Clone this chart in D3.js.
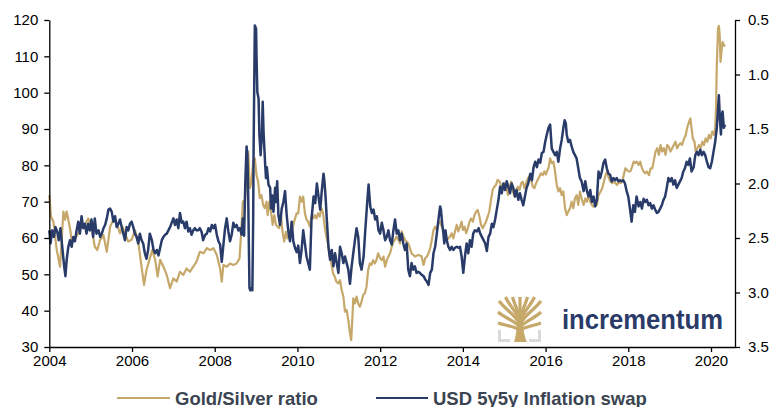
<!DOCTYPE html>
<html>
<head>
<meta charset="utf-8">
<script src="https://cdn.jsdelivr.net/npm/d3@7"></script>
<style>
  html, body { margin: 0; padding: 0; background: #fff; }
  svg { display: block; font-family: "Liberation Sans", Arial, sans-serif; }
</style>
</head>
<body>
<div id="container"></div>
<script>
// Gold/Silver ratio, [decimal year, ratio] (left axis)
const goldSilver = [
  [2004.00,71.8],[2004.04,65.9],[2004.10,64.5],[2004.18,56.7],[2004.26,52.1],[2004.30,59.5],[2004.34,67.3],[2004.38,65],[2004.42,67.3],[2004.46,65],
  [2004.50,62.7],[2004.54,59.5],[2004.62,59.9],[2004.70,61.3],[2004.78,63.1],[2004.86,63.6],[2004.94,65.4],[2005.02,63.1],[2005.10,57.6],[2005.16,56.7],
  [2005.23,59.5],[2005.31,60.8],[2005.39,56.2],[2005.47,63.1],[2005.55,65],[2005.63,64],[2005.71,61.3],[2005.77,63.1],[2005.83,61.3],[2005.91,59],
  [2005.99,59.5],[2006.07,62.2],[2006.15,59],[2006.23,52.1],[2006.29,47.1],[2006.35,51.2],[2006.43,54.4],[2006.49,56.7],[2006.56,54],[2006.62,49.4],
  [2006.68,54],[2006.76,52.1],[2006.84,49.8],[2006.92,46.2],[2007.00,48.9],[2007.08,48],[2007.16,50.7],[2007.24,49.8],[2007.32,51.6],[2007.40,50.7],
  [2007.48,52.1],[2007.56,53.5],[2007.64,56.2],[2007.73,55.8],[2007.81,57.2],[2007.89,56.7],[2007.97,57.2],[2008.05,55.3],[2008.13,51.6],[2008.17,48],
  [2008.21,52.6],[2008.29,52.1],[2008.37,53],[2008.45,52.6],[2008.53,53],[2008.60,54.4],[2008.64,61.7],[2008.68,70],[2008.73,70.5],[2008.79,79.2],
  [2008.81,83.8],[2008.85,73.7],[2008.89,75.5],[2008.93,81],[2008.97,81.9],[2009.01,77.3],[2009.05,75.5],[2009.09,71],[2009.13,71.8],[2009.17,69.1],
  [2009.21,68.2],[2009.25,70],[2009.28,66.3],[2009.32,70],[2009.36,67.3],[2009.40,63.6],[2009.44,66.3],[2009.48,63.6],[2009.56,62.7],[2009.60,66.3],
  [2009.64,61.7],[2009.68,59],[2009.72,61.7],[2009.76,59.9],[2009.80,60.8],[2009.88,62.7],[2009.92,64.5],[2009.98,66.8],[2010.02,66.8],[2010.06,71.4],
  [2010.10,70],[2010.14,71.4],[2010.18,66.8],[2010.22,65],[2010.26,64.5],[2010.30,63.1],[2010.34,65.9],[2010.38,65.4],[2010.42,66.3],[2010.46,65.4],
  [2010.50,66.8],[2010.54,65.9],[2010.58,68.2],[2010.62,66.8],[2010.66,63.1],[2010.70,60.4],[2010.74,58.1],[2010.78,54.9],[2010.82,53],[2010.86,50.3],
  [2010.90,49.4],[2010.94,48],[2010.99,47.5],[2011.03,48.4],[2011.07,45.7],[2011.11,43.9],[2011.15,39.7],[2011.19,40.2],[2011.23,37.4],[2011.27,33.8],
  [2011.30,31.9],[2011.33,38.4],[2011.35,43.4],[2011.39,42],[2011.43,43.9],[2011.47,42],[2011.51,41.1],[2011.55,42.5],[2011.59,44.3],[2011.63,44.8],
  [2011.67,46.6],[2011.71,51.2],[2011.75,53],[2011.79,52.6],[2011.83,53.9],[2011.87,53],[2011.91,53.9],[2011.95,55.8],[2012.00,54.4],[2012.04,53.9],
  [2012.08,54.9],[2012.12,52.1],[2012.16,53.9],[2012.20,54.9],[2012.24,55.8],[2012.28,57.6],[2012.32,59],[2012.36,59.5],[2012.40,60.4],[2012.44,59.5],
  [2012.48,58.5],[2012.52,61.8],[2012.56,60.5],[2012.60,59.5],[2012.68,58.5],[2012.76,55.8],[2012.84,54.9],[2012.92,55.3],[2013.00,55],[2013.05,52.6],
  [2013.09,54.4],[2013.13,54.9],[2013.17,55.8],[2013.21,57.2],[2013.25,59.5],[2013.29,62.2],[2013.33,63.1],[2013.37,62.2],[2013.41,64],[2013.45,64.5],
  [2013.49,63.1],[2013.53,62.2],[2013.57,61.8],[2013.61,59.5],[2013.65,59.9],[2013.69,60.4],[2013.73,61.3],[2013.77,59.9],[2013.81,61.8],[2013.85,63.6],
  [2013.89,61.8],[2013.93,63.1],[2013.97,64.5],[2014.00,62.2],[2014.04,63.1],[2014.08,61.3],[2014.12,62.7],[2014.16,64.5],[2014.20,65.4],[2014.24,64.5],
  [2014.28,66.3],[2014.32,67.3],[2014.36,67.7],[2014.40,65.9],[2014.44,63.6],[2014.48,62.7],[2014.52,63.6],[2014.56,64.5],[2014.60,65.9],[2014.64,67.3],
  [2014.68,70.5],[2014.72,73.2],[2014.76,74.1],[2014.80,74.6],[2014.84,76],[2014.89,75.5],[2014.93,74.1],[2014.97,73.7],[2015.01,75.1],[2015.05,74.1],
  [2015.09,71.8],[2015.13,74.1],[2015.17,75.5],[2015.21,72.8],[2015.25,71.4],[2015.29,73.2],[2015.33,74.1],[2015.37,73.2],[2015.41,75.1],[2015.45,75.5],
  [2015.49,73.7],[2015.53,75.1],[2015.57,76.4],[2015.60,76.9],[2015.65,76],[2015.69,74.1],[2015.73,73.7],[2015.77,75.1],[2015.81,76],[2015.85,76.9],
  [2015.89,77.8],[2015.93,77.3],[2015.97,78.3],[2016.01,77.5],[2016.03,78.3],[2016.07,79.2],[2016.11,81.9],[2016.15,80.6],[2016.19,81],[2016.23,78.3],
  [2016.27,74.6],[2016.31,72.8],[2016.35,73.7],[2016.39,71.8],[2016.43,72.8],[2016.47,68.2],[2016.51,66.3],[2016.55,67.3],[2016.59,68.2],[2016.63,70],
  [2016.67,68.2],[2016.71,70.9],[2016.75,71.8],[2016.79,69.1],[2016.83,72.8],[2016.87,70.9],[2016.92,69.1],[2016.96,70.9],[2017.00,70],[2017.04,71.8],
  [2017.08,70],[2017.12,69.1],[2017.16,68.6],[2017.20,69.5],[2017.24,69.1],[2017.28,71.8],[2017.33,72.8],[2017.37,73.7],[2017.41,75.5],[2017.45,77.3],
  [2017.49,78.3],[2017.53,76.4],[2017.57,75.5],[2017.61,75.1],[2017.65,75.5],[2017.69,75.1],[2017.73,74.6],[2017.77,75.5],[2017.81,75.1],[2017.85,75.5],
  [2017.89,77.3],[2017.93,79.2],[2017.97,78.7],[2018.01,78.3],[2018.05,78.3],[2018.09,79.6],[2018.13,81],[2018.17,80.6],[2018.21,81],[2018.25,80.1],
  [2018.29,81],[2018.33,79.2],[2018.37,78.3],[2018.41,77.8],[2018.45,78.3],[2018.50,77.3],[2018.54,79.2],[2018.58,79.2],[2018.62,81.5],[2018.66,83.8],
  [2018.70,84.7],[2018.74,82.9],[2018.78,85.6],[2018.82,83.8],[2018.86,84.7],[2018.90,82.9],[2018.94,85.6],[2018.98,85.1],[2019.02,83.8],[2019.06,84.7],
  [2019.10,85.6],[2019.14,86.5],[2019.18,84.7],[2019.22,85.6],[2019.26,86.1],[2019.30,85.6],[2019.35,87.4],[2019.39,88.4],[2019.43,90.6],[2019.47,92],
  [2019.50,92.9],[2019.53,90.2],[2019.56,87.4],[2019.60,86.5],[2019.63,83.8],[2019.67,84.7],[2019.71,85.6],[2019.75,84.7],[2019.79,86.5],[2019.83,85.6],
  [2019.87,87.4],[2019.91,86.5],[2019.95,88.4],[2019.99,87.4],[2020.03,89.3],[2020.07,88.4],[2020.10,90.2],[2020.12,95.7],[2020.14,107.6],[2020.17,117.7],
  [2020.19,118.4],[2020.21,115.9],[2020.23,108.5],[2020.26,112.2],[2020.28,114],[2020.31,113.1],[2020.34,112.7]
];

// USD 5y5y inflation swap, [decimal year, %] (right axis, inverted)
const inflationSwap = [
  [2004.00,2.43],[2004.03,2.55],[2004.07,2.43],[2004.11,2.49],[2004.15,2.40],[2004.19,2.44],[2004.23,2.52],[2004.27,2.41],[2004.32,2.61],[2004.36,2.76],
  [2004.39,2.85],[2004.42,2.70],[2004.46,2.58],[2004.50,2.52],[2004.54,2.58],[2004.58,2.49],[2004.62,2.53],[2004.66,2.43],[2004.70,2.35],[2004.74,2.46],
  [2004.78,2.30],[2004.82,2.41],[2004.86,2.37],[2004.90,2.46],[2004.94,2.37],[2004.98,2.43],[2005.02,2.33],[2005.06,2.49],[2005.10,2.32],[2005.14,2.46],
  [2005.19,2.43],[2005.23,2.49],[2005.27,2.46],[2005.31,2.41],[2005.35,2.38],[2005.39,2.32],[2005.43,2.24],[2005.47,2.23],[2005.51,2.26],[2005.55,2.35],
  [2005.59,2.30],[2005.63,2.40],[2005.67,2.37],[2005.71,2.33],[2005.75,2.40],[2005.79,2.46],[2005.83,2.52],[2005.87,2.40],[2005.91,2.43],[2005.95,2.37],
  [2005.99,2.35],[2006.03,2.40],[2006.07,2.46],[2006.11,2.49],[2006.15,2.55],[2006.19,2.46],[2006.23,2.52],[2006.27,2.55],[2006.31,2.64],[2006.35,2.69],
  [2006.39,2.61],[2006.43,2.46],[2006.48,2.52],[2006.52,2.61],[2006.56,2.64],[2006.60,2.61],[2006.64,2.66],[2006.68,2.59],[2006.72,2.52],[2006.76,2.49],
  [2006.80,2.47],[2006.84,2.46],[2006.88,2.43],[2006.92,2.40],[2007.00,2.32],[2007.04,2.38],[2007.08,2.33],[2007.12,2.41],[2007.16,2.27],[2007.20,2.36],
  [2007.24,2.35],[2007.28,2.41],[2007.32,2.35],[2007.36,2.44],[2007.40,2.41],[2007.44,2.47],[2007.48,2.43],[2007.52,2.41],[2007.56,2.43],[2007.60,2.43],
  [2007.64,2.41],[2007.68,2.44],[2007.72,2.52],[2007.77,2.47],[2007.81,2.46],[2007.85,2.41],[2007.89,2.44],[2007.93,2.38],[2007.97,2.41],[2008.01,2.38],
  [2008.05,2.47],[2008.09,2.53],[2008.13,2.56],[2008.17,2.72],[2008.21,2.56],[2008.25,2.41],[2008.29,2.32],[2008.33,2.44],[2008.37,2.53],[2008.41,2.47],
  [2008.45,2.36],[2008.49,2.40],[2008.53,2.38],[2008.57,2.43],[2008.61,2.41],[2008.65,2.47],[2008.68,2.32],[2008.71,2.48],[2008.74,1.98],[2008.77,1.66],
  [2008.79,1.74],[2008.81,2.14],[2008.84,2.96],[2008.86,2.98],[2008.89,2.96],[2008.91,2.98],[2008.93,2.32],[2008.94,1.68],[2008.96,0.91],[2008.97,0.55],
  [2009.00,0.58],[2009.01,0.82],[2009.03,1.16],[2009.06,1.22],[2009.08,1.55],[2009.11,1.74],[2009.14,1.55],[2009.16,1.25],[2009.18,1.52],[2009.22,1.83],
  [2009.24,1.95],[2009.26,1.85],[2009.30,2.01],[2009.34,2.04],[2009.36,2.23],[2009.39,2.11],[2009.42,2.26],[2009.46,2.04],[2009.48,2.17],[2009.51,1.98],
  [2009.54,2.29],[2009.58,2.38],[2009.62,2.23],[2009.66,2.17],[2009.70,2.07],[2009.74,2.29],[2009.78,2.44],[2009.82,2.53],[2009.86,2.35],[2009.90,2.53],
  [2009.94,2.59],[2009.98,2.63],[2010.02,2.57],[2010.06,2.73],[2010.10,2.61],[2010.14,2.43],[2010.18,2.55],[2010.22,2.67],[2010.26,2.73],[2010.30,2.79],
  [2010.34,2.33],[2010.39,2.12],[2010.43,2.18],[2010.47,2.00],[2010.51,2.12],[2010.55,2.24],[2010.59,2.06],[2010.63,1.91],[2010.65,1.97],[2010.68,2.12],
  [2010.71,2.33],[2010.75,2.58],[2010.79,2.70],[2010.83,2.61],[2010.87,2.76],[2010.91,2.64],[2010.95,2.73],[2010.99,2.82],[2011.03,2.58],[2011.07,2.64],
  [2011.11,2.73],[2011.15,2.67],[2011.19,2.73],[2011.23,2.79],[2011.27,2.92],[2011.31,2.76],[2011.35,2.64],[2011.39,2.52],[2011.43,2.41],[2011.47,2.49],
  [2011.51,2.73],[2011.55,2.79],[2011.60,2.67],[2011.64,2.43],[2011.68,2.21],[2011.72,2.01],[2011.76,2.21],[2011.80,2.27],[2011.84,2.24],[2011.88,2.33],
  [2011.92,2.30],[2011.96,2.43],[2012.00,2.46],[2012.04,2.36],[2012.08,2.43],[2012.12,2.52],[2012.16,2.49],[2012.20,2.43],[2012.24,2.52],[2012.28,2.56],
  [2012.32,2.43],[2012.36,2.33],[2012.40,2.46],[2012.44,2.43],[2012.48,2.52],[2012.52,2.46],[2012.56,2.55],[2012.60,2.61],[2012.64,2.55],[2012.68,2.79],
  [2012.72,2.85],[2012.76,2.73],[2012.80,2.79],[2012.84,2.76],[2012.88,2.82],[2012.92,2.81],[2012.96,2.82],[2013.01,2.84],[2013.05,2.85],[2013.09,2.88],
  [2013.13,2.90],[2013.17,2.93],[2013.21,2.82],[2013.25,2.79],[2013.29,2.64],[2013.33,2.58],[2013.37,2.46],[2013.41,2.33],[2013.45,2.21],[2013.47,2.24],
  [2013.50,2.37],[2013.53,2.46],[2013.55,2.55],[2013.58,2.43],[2013.61,2.52],[2013.65,2.58],[2013.69,2.61],[2013.73,2.58],[2013.77,2.61],[2013.81,2.59],
  [2013.85,2.58],[2013.89,2.59],[2013.93,2.58],[2013.97,2.67],[2014.01,2.82],[2014.05,2.67],[2014.09,2.55],[2014.13,2.64],[2014.17,2.52],[2014.21,2.58],
  [2014.25,2.46],[2014.29,2.43],[2014.34,2.44],[2014.38,2.41],[2014.42,2.46],[2014.46,2.49],[2014.50,2.52],[2014.54,2.55],[2014.58,2.62],[2014.62,2.49],
  [2014.66,2.46],[2014.70,2.37],[2014.74,2.40],[2014.78,2.33],[2014.82,2.24],[2014.86,2.15],[2014.90,2.03],[2014.94,2.09],[2014.98,2.00],[2015.02,2.06],
  [2015.06,1.98],[2015.10,2.03],[2015.14,2.09],[2015.18,2.00],[2015.22,2.04],[2015.26,2.12],[2015.30,2.06],[2015.34,2.15],[2015.38,2.09],[2015.42,2.15],
  [2015.46,2.20],[2015.50,2.12],[2015.54,2.04],[2015.58,2.00],[2015.63,1.91],[2015.67,1.97],[2015.71,1.85],[2015.75,1.80],[2015.79,1.85],[2015.83,1.78],
  [2015.87,1.81],[2015.91,1.72],[2015.95,1.71],[2015.99,1.62],[2016.03,1.55],[2016.07,1.49],[2016.11,1.46],[2016.15,1.68],[2016.19,1.71],[2016.23,1.74],
  [2016.27,1.71],[2016.31,1.80],[2016.35,1.68],[2016.39,1.60],[2016.43,1.49],[2016.46,1.42],[2016.49,1.45],[2016.51,1.55],[2016.55,1.62],[2016.59,1.60],
  [2016.63,1.66],[2016.67,1.71],[2016.71,1.74],[2016.75,1.77],[2016.79,1.86],[2016.83,1.95],[2016.87,1.98],[2016.92,2.07],[2016.96,1.98],[2017.00,2.07],
  [2017.04,2.12],[2017.08,2.06],[2017.12,2.17],[2017.16,2.12],[2017.20,2.21],[2017.24,2.15],[2017.28,1.89],[2017.32,1.95],[2017.36,1.89],[2017.40,1.81],
  [2017.44,1.78],[2017.48,1.86],[2017.52,1.91],[2017.56,1.92],[2017.60,1.98],[2017.64,1.95],[2017.68,1.97],[2017.72,1.95],[2017.76,1.98],[2017.80,1.97],
  [2017.84,1.98],[2017.88,1.97],[2017.92,2.00],[2017.96,2.07],[2018.00,2.12],[2018.04,2.23],[2018.08,2.35],[2018.12,2.20],[2018.16,2.26],[2018.20,2.12],
  [2018.25,2.21],[2018.29,2.17],[2018.33,2.23],[2018.37,2.14],[2018.41,2.17],[2018.45,2.15],[2018.49,2.20],[2018.53,2.18],[2018.57,2.23],[2018.61,2.20],
  [2018.65,2.24],[2018.69,2.27],[2018.73,2.26],[2018.77,2.23],[2018.81,2.20],[2018.85,2.15],[2018.89,2.12],[2018.93,2.04],[2018.97,1.95],[2019.01,1.98],
  [2019.05,1.95],[2019.09,2.01],[2019.13,1.97],[2019.17,2.04],[2019.21,2.01],[2019.25,1.98],[2019.29,1.95],[2019.33,1.89],[2019.37,1.86],[2019.41,1.80],
  [2019.45,1.83],[2019.49,1.77],[2019.53,1.89],[2019.58,1.85],[2019.62,1.74],[2019.66,1.71],[2019.70,1.74],[2019.74,1.69],[2019.78,1.74],[2019.82,1.71],
  [2019.86,1.74],[2019.90,1.80],[2019.94,1.85],[2019.98,1.86],[2020.02,1.80],[2020.06,1.71],[2020.10,1.62],[2020.14,1.49],[2020.16,1.37],[2020.19,1.19],
  [2020.21,1.37],[2020.24,1.55],[2020.26,1.37],[2020.28,1.34],[2020.31,1.49],[2020.34,1.46]
];

const yearTicks = [2004, 2006, 2008, 2010, 2012, 2014, 2016, 2018, 2020];
const ratioTicks = [30, 40, 50, 60, 70, 80, 90, 100, 110, 120];
const swapTicks = [0.5, 1.0, 1.5, 2.0, 2.5, 3.0, 3.5];
const seriesNames = ["Gold/Silver ratio", "USD 5y5y Inflation swap"];
const brandName = "incrementum";

// Chart dimensions
const width = 773;
const height = 407;
const marginTop = 20;
const marginBottom = 60;
const marginLeft = 49.3;
const marginRight = 38;

const gold = "#c6a86b";
const navy = "#283b69";

const svg = d3.create("svg").attr("width", width).attr("height", height);

// Scales
const x = d3.scaleLinear()
  .domain([2004, 2020.58])
  .range([marginLeft, width - marginRight]);

const yLeft = d3.scaleLinear()
  .domain([30, 120])
  .range([height - marginBottom, marginTop]);

const yRight = d3.scaleLinear()
  .domain([3.5, 0.5])
  .range([height - marginBottom, marginTop]);

// Logo (behind the lines)
const logo = svg.append("g").attr("class", "logo");
logo.append("path")
  .attr("fill", "#dadada")
  .attr("d", "M498,330 h3 v9 h9 v3 h-12 Z M541,330 h-3 v9 h-9 v3 h12 Z");
logo.append("path")
  .attr("fill", gold)
  .attr("d", "M514,342 L527,342 C524,336 523,328 522.5,315 L517.5,315 C517,328 516,336 514,342 Z");
const branches = [
  "M520,318 L520,297",
  "M519.5,319 C518,310 514,303 512.5,297",
  "M519,320 C516,311 509,305 505.5,297",
  "M518.5,322 C514,314 505,309 499,301",
  "M518,325 C512,320 504,317 498,312",
  "M518,329 C512,326 504,325 498,323",
  "M520.5,319 C522,310 526,303 527.5,297",
  "M521,320 C524,311 531,305 534.5,297",
  "M521.5,322 C526,314 535,309 541,301",
  "M522,325 C528,320 536,317 541,312",
  "M522,329 C528,326 536,325 541,323"
];
logo.selectAll("path.branch")
  .data(branches)
  .join("path")
  .attr("class", "branch")
  .attr("d", d => d)
  .attr("fill", "none")
  .attr("stroke", gold)
  .attr("stroke-width", 3.2)
  .attr("stroke-linecap", "butt");
logo.append("text")
  .attr("x", 562)
  .attr("y", 329)
  .attr("font-size", 27)
  .attr("font-weight", "bold")
  .attr("fill", "#2b3b69")
  .attr("textLength", 161)
  .attr("lengthAdjust", "spacingAndGlyphs")
  .text(brandName);

// Lines
const lineGold = d3.line()
  .x(d => x(d[0]))
  .y(d => yLeft(d[1]));

const lineSwap = d3.line()
  .x(d => x(d[0]))
  .y(d => yRight(d[1]));

svg.append("path")
  .datum(goldSilver)
  .attr("fill", "none")
  .attr("stroke", gold)
  .attr("stroke-width", 2.2)
  .attr("stroke-linejoin", "round")
  .attr("d", lineGold);

svg.append("path")
  .datum(inflationSwap)
  .attr("fill", "none")
  .attr("stroke", navy)
  .attr("stroke-width", 2.5)
  .attr("stroke-linejoin", "round")
  .attr("d", lineSwap);

// Axes
function styleAxis(g) {
  g.selectAll("path.domain").attr("stroke", "#000").attr("stroke-width", 1.3);
  g.selectAll(".tick line").attr("stroke", "#000").attr("stroke-width", 1.3);
  g.selectAll(".tick text")
    .attr("fill", "#000")
    .attr("font-size", 15)
    .attr("font-family", "'Liberation Sans', Arial, sans-serif");
}

svg.append("g")
  .attr("transform", `translate(0,${height - marginBottom})`)
  .call(d3.axisBottom(x).tickValues(yearTicks).tickFormat(d3.format("d"))
    .tickSize(5).tickSizeOuter(0).tickPadding(3))
  .call(styleAxis);

svg.append("g")
  .attr("transform", `translate(${marginLeft},0)`)
  .call(d3.axisLeft(yLeft).tickValues(ratioTicks).tickSize(5).tickSizeOuter(0).tickPadding(6))
  .call(styleAxis);

svg.append("g")
  .attr("transform", `translate(${width - marginRight},0)`)
  .call(d3.axisRight(yRight).tickValues(swapTicks).tickFormat(d3.format(".1f"))
    .tickSize(5).tickSizeOuter(0).tickPadding(8))
  .call(styleAxis);

// Legend
const legendItems = [
  { name: seriesNames[0], color: gold, x0: 117, x1: 170 },
  { name: seriesNames[1], color: navy, x0: 376, x1: 428 }
];
const legend = svg.append("g").attr("class", "legend");
legend.selectAll("line")
  .data(legendItems)
  .join("line")
  .attr("x1", d => d.x0)
  .attr("x2", d => d.x1)
  .attr("y1", 398)
  .attr("y2", 398)
  .attr("stroke", d => d.color)
  .attr("stroke-width", 2);
legend.selectAll("text")
  .data(legendItems)
  .join("text")
  .attr("x", d => d.x1 + 5)
  .attr("y", 404.5)
  .attr("font-size", 18.5)
  .attr("font-weight", "bold")
  .attr("fill", "#3b4452")
  .text(d => d.name);

document.getElementById("container").append(svg.node());
</script>
</body>
</html>
